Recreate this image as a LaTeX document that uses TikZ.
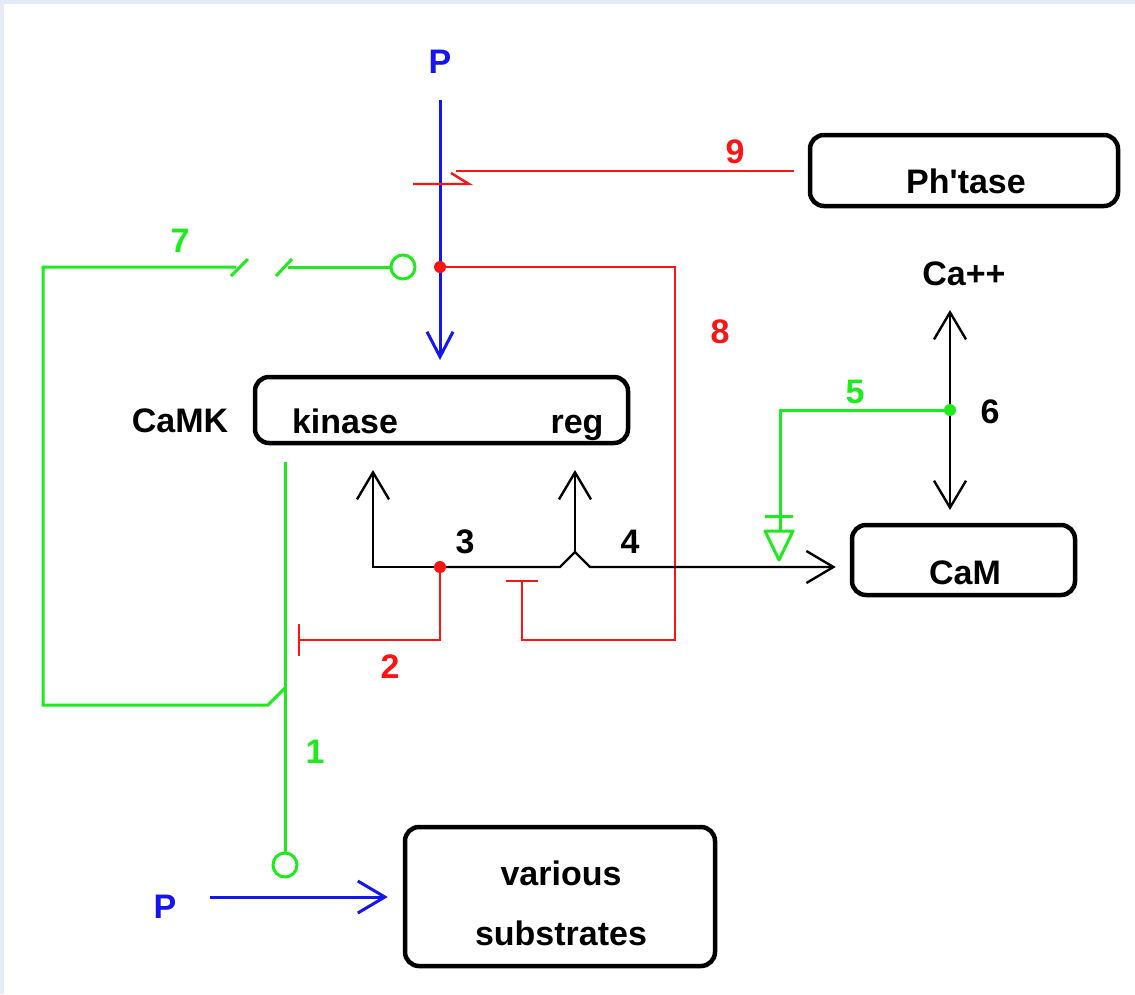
\documentclass[tikz,border=0pt]{standalone}
\usepackage{fontspec}
\setmainfont{Liberation Sans}[Ligatures=TeXOff]
\usetikzlibrary{arrows.meta}
\definecolor{gr}{RGB}{30,235,30}
\definecolor{bl}{RGB}{20,20,245}
\definecolor{rd}{RGB}{250,20,20}
\definecolor{frame}{RGB}{230,234,246}
\begin{document}
\begin{tikzpicture}[x=1pt,y=-1pt,
  lbl/.style={font=\fontsize{34}{40}\selectfont\bfseries, inner sep=0pt, anchor=base},
  box/.style={draw, line width=4.5pt, rounded corners=14pt, inner sep=0pt},
  blk/.style={line width=2.4pt, black},
  red/.style={line width=2.4pt, rd},
  grn/.style={line width=3pt, gr},
  blu/.style={line width=3pt, bl},
  barb/.style={-{Straight Barb[length=27pt,width=32pt]}},
  dbarb/.style={{Straight Barb[length=27pt,width=32pt]}-{Straight Barb[length=27pt,width=32pt]}},
  inh/.style={-{Bar[width=32pt]}},
  ring/.style={circle, draw=gr, line width=3pt, minimum size=24pt, inner sep=0pt},
]
\useasboundingbox (0,0) rectangle (1135,994);
\fill[frame] (0,0) rectangle (1135,994);
\fill[white] (4,4) rectangle (1135,994);

% boxes
\node[box, minimum width=373pt, minimum height=66pt] (camk) at (441.5,410) {};
\node[box, minimum width=308pt, minimum height=71pt] (ph) at (964,170.5) {};
\node[box, minimum width=223pt, minimum height=70pt] (cam) at (963.5,560) {};
\node[box, minimum width=310pt, minimum height=139pt] (subs) at (560,896.5) {};

% texts
\node[lbl] (tkin) at (345,433) {kinase};
\node[lbl] (treg) at (577,433) {reg};
\node[lbl] (tcamk) at (180,432) {CaMK};
\node[lbl] (tph) at (966,193) {Ph'tase};
\node[lbl] (tcam) at (965,584) {CaM};
\node[lbl] (tca) at (964,285) {Ca++};
\node[lbl] (tvar) at (561,885) {various};
\node[lbl] (tsub) at (561,945) {substrates};
\node[lbl, bl] (ptop) at (440,73) {P};
\node[lbl, bl] (pbot) at (165,918) {P};
\node[lbl, rd] (n9) at (735,163) {9};
\node[lbl, gr] (n7) at (180,252) {7};
\node[lbl, rd] (n8) at (720,343) {8};
\node[lbl, gr] (n5) at (855,403) {5};
\node[lbl] (n6) at (990,423) {6};
\node[lbl] (n3) at (465,553) {3};
\node[lbl] (n4) at (630,553) {4};
\node[lbl, rd] (n2) at (390,678) {2};
\node[lbl, gr] (n1) at (315,763) {1};

% junctions
\coordinate (rd1) at (440,267);
\coordinate (rd2) at (440,567);
\coordinate (gd) at (950,410);
\coordinate (hop) at (575,552);

% blue
\draw[blu, -{Straight Barb[length=25pt,width=26pt]}] (440,100) -- (440,360);
\draw[blu, barb] (210,897) -- ([xshift=-15pt]subs.west |- 0,897);

% red 9
\draw[red] ([xshift=-14pt]ph.west |- 0,171) -- (456,171);
\draw[red] (451,173) -- (469,184) -- (413,184);

% red 8
\draw[red, inh] (rd1) -- (675,267) -- (675,640) -- (522,640) -- (522,580);
% red 2
\draw[red, inh] (rd2) -- (440,640) -- (298,640);

% green 7
\node[ring] (gc1) at (403,267) {};
\draw[grn] (gc1.west) -- (288,267);
\draw[grn] (276,276) -- (292,259);
\draw[grn] (236,267) -- (43,267) -- (43,705) -- (268,705) -- (285,688);
\draw[grn] (231,276) -- (248,259);
% green 1
\node[ring] (gc2) at (285,865) {};
\draw[grn] (285,462) -- (gc2.north);

% black
\draw[blk, barb] (rd2) -- (373,567) -- (373,470);
\draw[blk, barb] (rd2) -- (560,567) -- (hop) -- (590,567) -- ([xshift=-14pt]cam.west |- 0,567);
\draw[blk, barb] (hop) -- (575,470);
\draw[blk, dbarb] (950,310) -- (950,510);

% green 5
\draw[grn] (gd) -- (780,410) -- (780,531);
\draw[grn] (765,516) -- (793,516);
\draw[grn, line join=round] (765,531) -- (793,531) -- (779,560) -- cycle;

% dots
\fill[rd] (rd1) circle (6pt);
\fill[rd] (rd2) circle (6pt);
\fill[gr] (gd) circle (6pt);
\end{tikzpicture}
\end{document}
